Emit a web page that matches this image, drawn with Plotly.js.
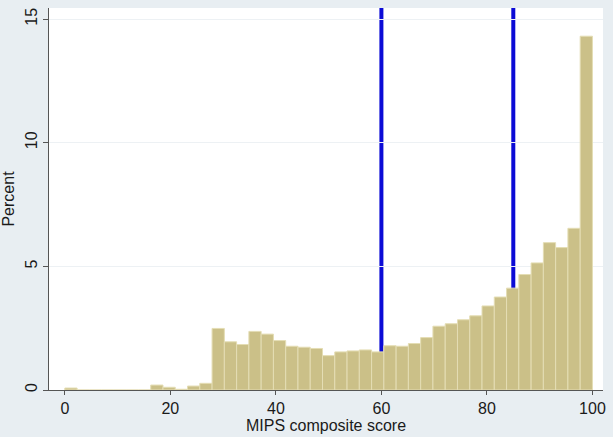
<!DOCTYPE html>
<html>
<head>
<meta charset="utf-8">
<script src="https://cdn.plot.ly/plotly-3.0.1.min.js"></script>
<style>html,body{margin:0;padding:0;background:#e8eef2;}#chart{width:613px;height:437px;}</style>
</head>
<body>
<div id="chart"></div>
<script>
// Histogram of MIPS composite score: 43 bins starting at 0
const binStart = 0;
const binWidth = 100 / 43;
const percent = [
  0.08, 0, 0, 0, 0, 0, 0, 0.20, 0.11, 0.03,
  0.16, 0.27, 2.49, 1.95, 1.84, 2.37, 2.26, 2.00, 1.77, 1.73,
  1.68, 1.39, 1.54, 1.58, 1.62, 1.54, 1.79, 1.77, 1.88, 2.12,
  2.58, 2.68, 2.84, 3.00, 3.40, 3.76, 4.12, 4.67, 5.14, 5.96,
  5.76, 6.54, 14.31
];
const cutoffs = [60, 85];
const xTicks = [0, 20, 40, 60, 80, 100];
const yTicks = [0, 5, 10, 15];
const xTitle = 'MIPS composite score';
const yTitle = 'Percent';

const centers = percent.map((_, i) => binStart + (i + 0.5) * binWidth);

const trace = {
  type: 'bar',
  x: centers,
  y: percent,
  width: binWidth,
  marker: {color: '#cbc088', line: {color: '#e4ddb4', width: 1}},
  hoverinfo: 'x+y'
};

const shapes = cutoffs.map(c => ({
  type: 'line', layer: 'below',
  xref: 'x', yref: 'paper',
  x0: c, x1: c, y0: 0, y1: 1,
  line: {color: '#0b0bd6', width: 4}
}));

const layout = {
  width: 613, height: 437,
  margin: {l: 49, r: 10, t: 8, b: 47},
  paper_bgcolor: '#e8eef2',
  plot_bgcolor: '#ffffff',
  bargap: 0,
  showlegend: false,
  font: {family: 'Liberation Sans, Arial, sans-serif', size: 16, color: '#1a1a1a'},
  xaxis: {
    range: [-3, 102],
    tickvals: xTicks,
    ticks: 'outside', ticklen: 4, tickcolor: '#555',
    showgrid: false, zeroline: false,
    showline: true, linecolor: '#555', linewidth: 1,
    tickfont: {size: 16},
    automargin: false
  },
  yaxis: {
    range: [0, 15.45],
    tickvals: yTicks,
    tickangle: -90,
    ticks: 'outside', ticklen: 5, tickcolor: '#555',
    showgrid: true, gridcolor: '#edf1f4', gridwidth: 1,
    zeroline: false,
    showline: true, linecolor: '#555', linewidth: 1,
    tickfont: {size: 16},
    automargin: false,
    title: {text: yTitle, font: {size: 16}, standoff: 6}
  },
  annotations: [{
    text: xTitle, showarrow: false,
    xref: 'paper', yref: 'paper',
    x: 0.5, y: -0.094, xanchor: 'center', yanchor: 'middle',
    borderpad: 0,
    font: {size: 16}
  }],
  shapes: shapes
};

Plotly.newPlot('chart', [trace], layout, {displayModeBar: false, staticPlot: true});
</script>
</body>
</html>
